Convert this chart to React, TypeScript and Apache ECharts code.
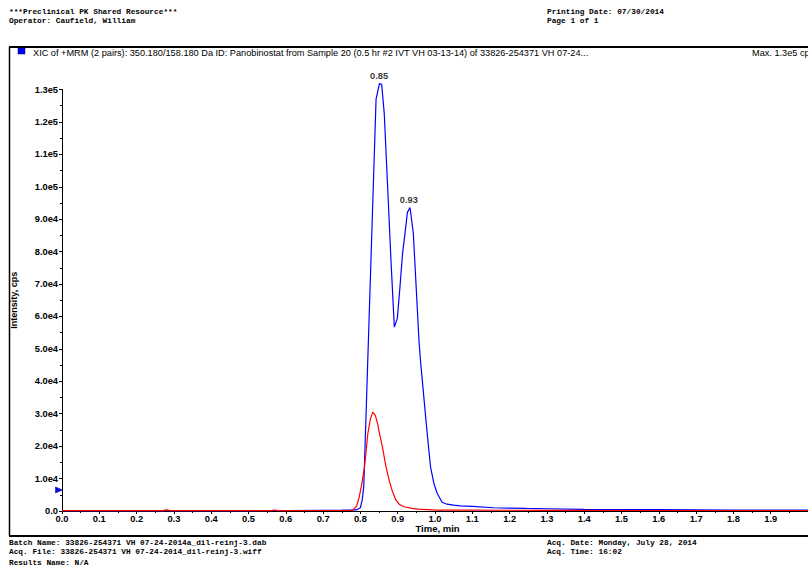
import React, { useEffect, useRef } from "react";
import * as echarts from "echarts";

const blueTimes = [0, 0.1, 0.2, 0.3, 0.4, 0.5, 0.6, 0.7, 0.75, 0.78, 0.79, 0.8, 0.805, 0.809, 0.818, 0.83, 0.842, 0.851, 0.857, 0.864, 0.873, 0.882, 0.891, 0.899, 0.906, 0.913, 0.92, 0.926, 0.933, 0.942, 0.95, 0.957, 0.961, 0.97, 0.979, 0.988, 0.997, 1.006, 1.019, 1.032, 1.05, 1.068, 1.1, 1.157, 1.2, 1.245, 1.3, 1.4, 1.5, 1.6, 1.7, 1.8, 1.9, 2.0];
const blueValues = [100, 80, 90, 100, 80, 100, 150, 200, 250, 300, 400, 1000, 3500, 7500, 40000, 83500, 127000, 131800, 131600, 122500, 100000, 77200, 56700, 59400, 69000, 79400, 86000, 92100, 93600, 85500, 68000, 52600, 46500, 35200, 24000, 13600, 8500, 5400, 2700, 2100, 1800, 1600, 1400, 1000, 900, 800, 700, 500, 450, 400, 350, 300, 300, 250];

const redTimes = [0, 0.27, 0.28, 0.29, 0.3, 0.56, 0.57, 0.58, 0.6, 0.7, 0.77, 0.78, 0.79, 0.797, 0.804, 0.811, 0.82, 0.827, 0.833, 0.84, 0.846, 0.852, 0.859, 0.868, 0.877, 0.886, 0.895, 0.905, 0.917, 0.935, 0.953, 1.006, 1.1, 1.3, 1.6, 2.0];
const redValues = [100, 100, 350, 100, 100, 100, 300, 100, 100, 150, 200, 300, 1500, 4400, 8500, 13600, 23900, 28500, 30500, 29500, 27000, 23500, 19800, 14000, 9500, 6000, 3400, 2000, 1300, 900, 600, 300, 250, 200, 150, 150];

const peakTimes = [0.85, 0.93];
const peakValues = [131800, 93600];
const peakLabels = ["0.85", "0.93"];

const thresholdValue = 6500;

const headerLeft = ["***Preclinical PK Shared Resource***", "Operator: Caufield, William"];
const headerRight = ["Printing Date: 07/30/2014", "Page 1 of 1"];
const footerLeft = [
  "Batch Name: 33826-254371 VH 07-24-2014a_dil-reinj-3.dab",
  "Acq. File: 33826-254371 VH 07-24-2014_dil-reinj-3.wiff",
  "Results Name: N/A",
];
const footerRight = ["Acq. Date: Monday, July 28, 2014", "Acq. Time: 16:02"];
const titleText =
  "XIC of +MRM (2 pairs): 350.180/158.180 Da ID: Panobinostat from Sample 20 (0.5 hr #2 IVT VH 03-13-14) of 33826-254371 VH 07-24...";
const maxText = "Max. 1.3e5 cps";

const monoFont = 'bold 7.8px "Liberation Mono", "DejaVu Sans Mono", monospace';
const sansFont = '9.2px "Liberation Sans", Arial, sans-serif';

function fmtY(v: number): string {
  if (v === 0) return "0.0";
  const e = Math.floor(Math.log10(v) + 1e-9);
  const m = v / Math.pow(10, e);
  return m.toFixed(1) + "e" + e;
}

export default function App() {
  const ref = useRef<HTMLDivElement>(null);
  useEffect(() => {
    if (!ref.current) return;
    const chart = echarts.init(ref.current, null, { renderer: "svg" });
    const blueData = blueTimes.map((t, i) => [t, blueValues[i]]);
    const redData = redTimes.map((t, i) => [t, redValues[i]]);
    const peakData = peakTimes.map((t, i) => ({ value: [t, peakValues[i]], name: peakLabels[i] }));
    const mono = (text: string, x: number, y: number) => ({
      type: "text",
      silent: true,
      style: { text, x, y, font: monoFont, fill: "#000", verticalAlign: "middle" },
    });
    const graphics: any[] = [];
    headerLeft.forEach((t, i) => graphics.push(mono(t, 9, 12 + i * 9)));
    headerRight.forEach((t, i) => graphics.push(mono(t, 547, 12 + i * 9)));
    footerLeft.forEach((t, i) => graphics.push(mono(t, 9, [543, 552, 563][i])));
    footerRight.forEach((t, i) => graphics.push(mono(t, 547, 543 + i * 9)));
    graphics.push(
      { type: "line", silent: true, shape: { x1: 9, y1: 47, x2: 808, y2: 47 }, style: { stroke: "#000", lineWidth: 2 } },
      { type: "line", silent: true, shape: { x1: 9.5, y1: 47, x2: 9.5, y2: 536 }, style: { stroke: "#000", lineWidth: 1.5 } },
      { type: "line", silent: true, shape: { x1: 9, y1: 536, x2: 808, y2: 536 }, style: { stroke: "#000", lineWidth: 2 } },
      { type: "rect", silent: true, shape: { x: 18, y: 48, width: 7, height: 6 }, style: { fill: "#0000ff", stroke: "#000040", lineWidth: 0.5 } },
      { type: "text", silent: true, style: { text: titleText, x: 33, y: 53, font: sansFont, fill: "#000", verticalAlign: "middle" } },
      { type: "text", silent: true, style: { text: maxText, x: 752, y: 53, font: sansFont, fill: "#000", verticalAlign: "middle" } }
    );

    const axisLabelStyle = { fontSize: 9.3, fontWeight: "bold", color: "#000", fontFamily: '"Liberation Sans", Arial, sans-serif' };

    chart.setOption({
      animation: false,
      backgroundColor: "#fff",
      grid: { left: 62, top: 89.5, bottom: 56, right: -5.6, containLabel: false },
      xAxis: {
        type: "value",
        min: 0,
        max: 2.0,
        interval: 0.1,
        name: "Time, min",
        nameLocation: "middle",
        nameGap: 12,
        nameMoveOverlap: false,
        nameTextStyle: { ...axisLabelStyle, fontSize: 9.5, padding: [0, 0, 0, 5] },
        axisLine: { show: true, lineStyle: { color: "#000", width: 1 } },
        axisTick: { show: true, length: 3, lineStyle: { color: "#000" } },
        minorTick: { show: true, splitNumber: 2, length: 2, lineStyle: { color: "#000" } },
        splitLine: { show: false },
        axisLabel: { ...axisLabelStyle, margin: 3, formatter: (v: number) => v.toFixed(1), showMaxLabel: false },
      },
      yAxis: {
        type: "value",
        min: 0,
        max: 130000,
        interval: 10000,
        name: "Intensity, cps",
        nameLocation: "middle",
        nameGap: 44,
        nameMoveOverlap: false,
        nameRotate: 90,
        nameTextStyle: { ...axisLabelStyle, fontSize: 9 },
        axisLine: { show: true, lineStyle: { color: "#000", width: 1 } },
        axisTick: { show: true, length: 3, lineStyle: { color: "#000" } },
        minorTick: { show: true, splitNumber: 2, length: 2, lineStyle: { color: "#000" } },
        splitLine: { show: false },
        axisLabel: { ...axisLabelStyle, margin: 4, formatter: fmtY },
      },
      graphic: graphics,
      series: [
        {
          type: "line",
          data: blueData,
          showSymbol: false,
          clip: false,
          silent: true,
          lineStyle: { color: "#0000ff", width: 1.2 },
          itemStyle: { color: "#0000ff" },
          markPoint: {
            silent: true,
            data: [
              {
                coord: [0, thresholdValue],
                symbol: "triangle",
                symbolSize: [6, 7],
                symbolRotate: -90,
                symbolOffset: [-3, 0],
                itemStyle: { color: "#0000ff", borderColor: "#000060", borderWidth: 0.5 },
                label: { show: false },
              },
            ],
          },
        },
        {
          type: "line",
          data: redData,
          showSymbol: false,
          clip: false,
          silent: true,
          lineStyle: { color: "#ff0000", width: 1.2 },
          itemStyle: { color: "#ff0000" },
        },
        {
          type: "scatter",
          data: peakData,
          clip: false,
          silent: true,
          symbolSize: 1,
          itemStyle: { color: "rgba(0,0,0,0)" },
          label: {
            show: true,
            position: "top",
            distance: 3,
            formatter: (p: any) => p.name,
            ...axisLabelStyle,
          },
        },
      ],
    });
    return () => chart.dispose();
  }, []);
  return (
    <div
      ref={ref}
      style={{ position: "fixed", left: 0, top: 0, width: 808, height: 567, overflow: "hidden" }}
    />
  );
}
